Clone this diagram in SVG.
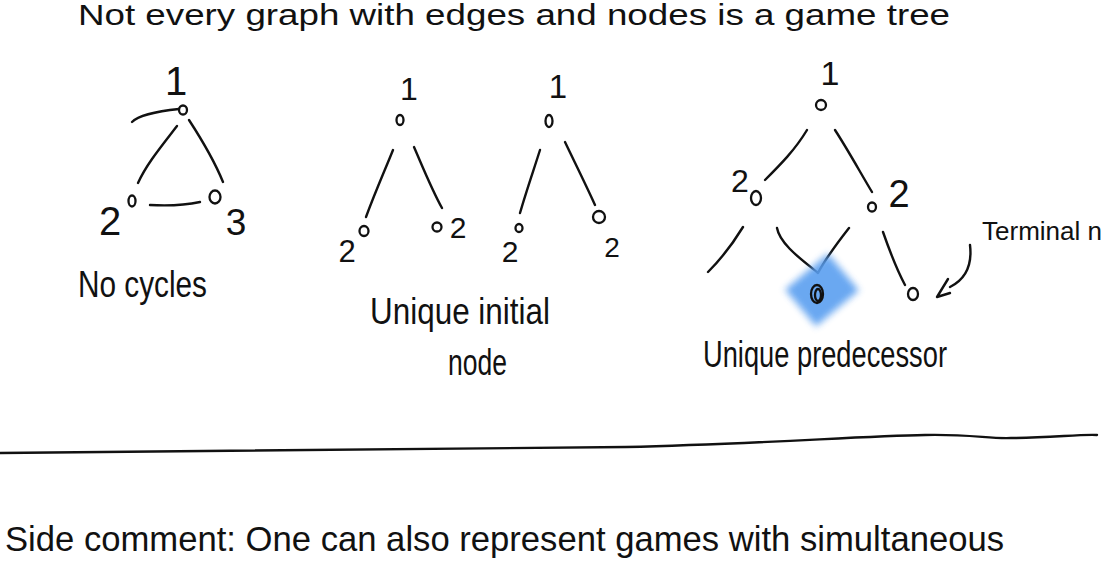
<svg xmlns="http://www.w3.org/2000/svg" width="1110" height="568" viewBox="0 0 1110 568">
<defs>
<style>
.s{fill:none;stroke:#111;stroke-width:2.4;stroke-linecap:round;stroke-linejoin:round}
.n{fill:none;stroke:#111;stroke-width:2.3}
.t{font-family:"Liberation Sans",Arial,sans-serif;fill:#111}
.d{font-family:"Liberation Sans",Arial,sans-serif;fill:#111;text-anchor:middle;font-weight:300}
</style>
<filter id="blur" x="-50%" y="-50%" width="200%" height="200%"><feGaussianBlur stdDeviation="3.5"/></filter>
</defs>
<rect width="1110" height="568" fill="#fff"/>

<text class="t" x="78" y="25" font-size="30" textLength="872" lengthAdjust="spacingAndGlyphs">Not every graph with edges and nodes is a game tree</text>

<g id="connectors">
  <path class="s" d="M132,122 C140,114 160,111 179,109"/>
  <path class="s" d="M177,126 C160,148 146,165 138,183"/>
  <path class="s" d="M189,120 C202,140 214,160 223,182"/>
  <path class="s" d="M150,205 C168,206 186,205 200,202"/>
  <path class="s" d="M393,150 C385,170 376,190 366,217"/>
  <path class="s" d="M414,147 C424,170 432,190 442,208"/>
  <path class="s" d="M540,150 C533,172 526,192 520,213"/>
  <path class="s" d="M565,142 C576,165 586,185 595,205"/>
  <path class="s" d="M807,130 C795,150 780,165 765,180"/>
  <path class="s" d="M835,130 C848,150 860,172 872,192"/>
  <path class="s" d="M743,227 C732,245 720,260 708,272"/>
  <path class="s" d="M777,228 C780,245 805,262 818,273 C826,258 838,242 849,228"/>
  <path class="s" d="M883,232 C890,252 897,270 905,285"/>
  <path class="s" d="M970,245 C972,262 968,278 950,287"/>
  <path class="s" d="M948,279 L937,297 L950,293"/>
</g>

<g id="tree-no-cycles">
  <g id="nc-n1"><ellipse class="n" cx="183" cy="110" rx="4" ry="4.5"/><text class="d" x="176" y="95" font-size="40">1</text></g>
  <g id="nc-n2"><ellipse class="n" cx="132" cy="201" rx="3.5" ry="5.5"/><text class="d" x="110" y="235" font-size="40">2</text></g>
  <g id="nc-n3"><ellipse class="n" cx="215" cy="197" rx="5.5" ry="6.5"/><text class="d" x="236" y="235" font-size="37">3</text></g>
  <text class="t" x="78" y="297" font-size="36" textLength="129" lengthAdjust="spacingAndGlyphs">No cycles</text>
</g>

<g id="tree-unique-initial">
  <g id="ui-a1"><ellipse class="n" cx="400" cy="120" rx="3.5" ry="5"/><text class="d" x="409" y="100" font-size="32">1</text></g>
  <g id="ui-a2"><ellipse class="n" cx="364" cy="231" rx="4.5" ry="5"/><text class="d" x="347" y="262" font-size="31">2</text></g>
  <g id="ui-a3"><ellipse class="n" cx="437" cy="227" rx="4.5" ry="4.5"/><text class="d" x="458" y="238" font-size="30">2</text></g>
  <g id="ui-b1"><ellipse class="n" cx="549" cy="121" rx="3.5" ry="6"/><text class="d" x="558" y="98" font-size="33">1</text></g>
  <g id="ui-b2"><ellipse class="n" cx="519" cy="228" rx="3.5" ry="4"/><text class="d" x="510" y="262" font-size="30">2</text></g>
  <g id="ui-b3"><ellipse class="n" cx="599" cy="217" rx="6" ry="6"/><text class="d" x="612" y="257" font-size="28">2</text></g>
  <text class="t" x="370" y="324" font-size="36" textLength="180" lengthAdjust="spacingAndGlyphs">Unique initial</text>
  <text class="t" x="448" y="375" font-size="36" textLength="59" lengthAdjust="spacingAndGlyphs">node</text>
</g>

<g id="tree-unique-predecessor">
  <rect x="794" y="266" width="56" height="48" transform="rotate(-40 822 290)" fill="#5a9ff0" opacity="0.9" filter="url(#blur)"/>
  <g id="up-n1"><ellipse class="n" cx="821" cy="105" rx="5" ry="5"/><text class="d" x="830" y="85" font-size="34">1</text></g>
  <g id="up-n2"><ellipse class="n" cx="756" cy="198" rx="5" ry="7"/><text class="d" x="740" y="192" font-size="32">2</text></g>
  <g id="up-n3"><ellipse class="n" cx="872" cy="207" rx="4" ry="4.5"/><text class="d" x="899" y="207" font-size="38">2</text></g>
  <g id="up-n4"><ellipse class="n" cx="817" cy="294" rx="6" ry="9"/><ellipse class="n" cx="818" cy="295" rx="3" ry="6"/></g>
  <g id="up-n5"><ellipse class="n" cx="913" cy="294" rx="5" ry="6"/></g>
  <text class="t" x="703" y="367" font-size="36" textLength="244" lengthAdjust="spacingAndGlyphs">Unique predecessor</text>
  <text class="t" x="982" y="240" font-size="25.5" textLength="120" lengthAdjust="spacingAndGlyphs">Terminal n</text>
</g>

<path class="s" stroke-width="2" d="M0,453 Q300,449 626,447 C760,444 860,436 925,435 C970,434 990,439 1011,438 C1050,438 1080,434 1097,435"/>

<text class="t" x="5" y="551" font-size="34.5" textLength="999" lengthAdjust="spacingAndGlyphs">Side comment: One can also represent games with simultaneous</text>
</svg>
